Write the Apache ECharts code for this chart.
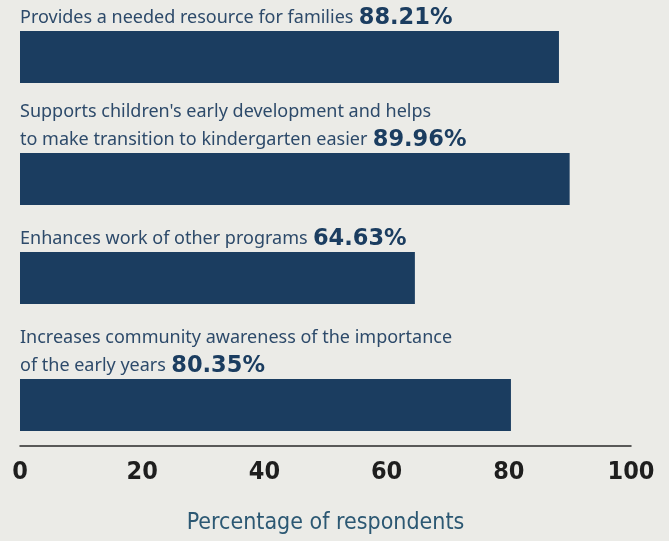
<!DOCTYPE html>
<html>
<head>
<meta charset="utf-8">
<script src="https://cdn.jsdelivr.net/npm/echarts@6/dist/echarts.min.js"></script>
<style>
  html, body { margin: 0; padding: 0; background: #ebebe7; }
  #main { width: 669px; height: 541px; }
</style>
</head>
<body>
<div id="main"></div>
<script>
// reasons given by respondents
var categories = [
    'Provides a needed resource for families',
    'Supports children\'s early development and helps\nto make transition to kindergarten easier',
    'Enhances work of other programs',
    'Increases community awareness of the importance\nof the early years'
];
var values = [88.21, 89.96, 64.63, 80.35];
var axisTicks = [0, 20, 40, 60, 80, 100];
var axisTitle = 'Percentage of respondents';

// bar rows are not evenly spaced (one- and two-line captions)
var rowTops = [31, 153, 252, 379];
var rowHeight = 52;

var condensed = '"DejaVu Sans Condensed", "DejaVu Sans", sans-serif';

var myChart = echarts.init(document.getElementById('main'));

var grids = [], xAxes = [], yAxes = [], series = [];
for (var i = 0; i < categories.length; i++) {
    var last = i === categories.length - 1;
    grids.push({ left: 20, right: 38, top: rowTops[i], height: rowHeight });
    xAxes.push({
        gridIndex: i,
        type: 'value',
        min: axisTicks[0],
        max: axisTicks[axisTicks.length - 1],
        interval: axisTicks[1] - axisTicks[0],
        show: last,
        offset: 15,
        splitLine: { show: false },
        axisTick: { show: false },
        axisLine: { show: last, lineStyle: { color: '#2a2a2a', width: 1.5 } },
        axisLabel: {
            margin: 14,
            color: '#1e1e1e',
            fontFamily: condensed,
            fontWeight: 'bold',
            fontSize: 25
        },
        name: last ? axisTitle : '',
        nameLocation: 'middle',
        nameGap: 66,
        nameTextStyle: {
            color: '#2c5873',
            fontFamily: condensed,
            fontSize: 23
        }
    });
    yAxes.push({ gridIndex: i, type: 'category', show: false, data: [categories[i]] });
    series.push({
        type: 'bar',
        xAxisIndex: i,
        yAxisIndex: i,
        barWidth: '100%',
        data: [values[i]],
        itemStyle: { color: '#1b3d60' },
        silent: true,
        label: {
            show: true,
            position: [0, 1.5],
            align: 'left',
            verticalAlign: 'bottom',
            formatter: function (p) {
                var lines = p.name.split('\n');
                var out = lines.map(function (l, k) {
                    var s = '{t|' + l + '}';
                    if (k === lines.length - 1) s += ' {v|' + p.value.toFixed(2) + '%}';
                    return s;
                });
                return out.join('\n');
            },
            rich: {
                t: { color: '#2d4a6a', fontFamily: 'Noto Sans', fontSize: 18, lineHeight: 28.5 },
                v: { color: '#1b3d60', fontFamily: 'DejaVu Sans', fontWeight: 'bold', fontSize: 22.5, lineHeight: 28.5, padding: [0, 0, 0, 2] }
            }
        }
    });
}

var option = {
    backgroundColor: '#ebebe7',
    animation: false,
    grid: grids,
    xAxis: xAxes,
    yAxis: yAxes,
    series: series
};
myChart.setOption(option);
</script>
</body>
</html>
